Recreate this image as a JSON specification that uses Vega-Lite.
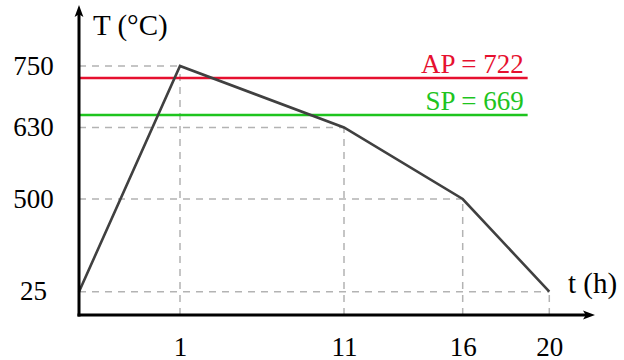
{
  "$schema": "https://vega.github.io/schema/vega-lite/v6.json",
  "width": 516,
  "height": 310,
  "autosize": {"type": "none"},
  "padding": {"left": 79, "top": 5, "right": 29, "bottom": 45},
  "config": {"view": {"stroke": null}, "font": "Liberation Serif"},
  "datasets": {
    "profile": [
      {"t": 0, "T": 25},
      {"t": 1, "T": 750},
      {"t": 11, "T": 630},
      {"t": 16, "T": 500},
      {"t": 20, "T": 25}
    ],
    "guides": [
      {"t": 0, "tEnd": 1, "T": 750, "TEnd": 750},
      {"t": 0, "tEnd": 11, "T": 630, "TEnd": 630},
      {"t": 0, "tEnd": 16, "T": 500, "TEnd": 500},
      {"t": 0, "tEnd": 20, "T": 25, "TEnd": 25},
      {"t": 1, "tEnd": 1, "T": 0, "TEnd": 750},
      {"t": 11, "tEnd": 11, "T": 0, "TEnd": 630},
      {"t": 16, "tEnd": 16, "T": 0, "TEnd": 500},
      {"t": 20, "tEnd": 20, "T": 0, "TEnd": 25}
    ],
    "refs": [
      {"name": "AP", "label": "AP = 722", "T": 722, "t": 0, "tEnd": 19},
      {"name": "SP", "label": "SP = 669", "T": 669, "t": 0, "tEnd": 19}
    ],
    "axes": [
      {"dir": "x", "t": 0, "T": 0, "tEnd": 21.56, "TEnd": 0},
      {"dir": "y", "t": 0, "T": 0, "tEnd": 0, "TEnd": 875}
    ],
    "tips": [
      {"dir": "x", "t": 22, "T": 0},
      {"dir": "y", "t": 0, "T": 900}
    ],
    "titles": [
      {"dir": "y", "label": "T (°C)", "t": 0, "T": 900},
      {"dir": "x", "label": "t (h)", "t": 22, "T": 0}
    ]
  },
  "encoding": {
    "x": {"field": "t", "type": "quantitative",
      "scale": {"type": "linear", "domain": [0, 1, 11, 16, 20, 22], "range": [0, 101, 265, 383.7, 470.3, 516], "nice": false, "zero": false},
      "axis": {"values": [1, 11, 16, 20], "domain": false, "ticks": false, "grid": false, "title": null, "labelFont": "Liberation Serif", "labelFontSize": 27, "labelColor": "black", "labelPadding": 40, "labelBaseline": "alphabetic", "labelFlush": false, "labelOverlap": false}},
    "y": {"field": "T", "type": "quantitative",
      "scale": {"type": "linear", "domain": [0, 25, 500, 630, 669, 722, 750, 900], "range": [310, 286.7, 194, 122.5, 110, 73, 61, 0], "nice": false, "zero": false},
      "axis": {"values": [25, 500, 630, 750], "domain": false, "ticks": false, "grid": false, "title": null, "labelFont": "Liberation Serif", "labelFontSize": 27, "labelColor": "black", "labelPadding": 46, "labelAlign": "center", "labelBaseline": "middle", "labelFlush": false, "labelOverlap": false}}
  },
  "layer": [
    {
      "data": {"name": "guides"},
      "mark": {"type": "rule", "color": "#b3b3b3", "strokeWidth": 1.5, "strokeDash": [7, 6]},
      "encoding": {
        "x2": {"field": "tEnd"},
        "y2": {"field": "TEnd"}
      }
    },
    {
      "data": {"name": "refs"},
      "mark": {"type": "rule", "strokeWidth": 2.6},
      "encoding": {
        "x2": {"field": "tEnd"},
        "color": {"field": "name", "type": "nominal", "scale": {"domain": ["AP", "SP"], "range": ["#e6102f", "#1ec41e"]}, "legend": null}
      }
    },
    {
      "data": {"name": "refs"},
      "mark": {"type": "text", "align": "right", "baseline": "alphabetic", "dx": -4, "dy": -5, "font": "Liberation Serif", "fontSize": 27},
      "encoding": {
        "x": {"field": "tEnd", "type": "quantitative"},
        "text": {"field": "label", "type": "nominal"},
        "color": {"field": "name", "type": "nominal", "legend": null}
      }
    },
    {
      "data": {"name": "profile"},
      "mark": {"type": "line", "color": "#404040", "strokeWidth": 2.6, "strokeJoin": "miter"},
      "encoding": {}
    },
    {
      "data": {"name": "axes"},
      "mark": {"type": "rule", "color": "black", "strokeWidth": 3, "strokeCap": "square"},
      "encoding": {
        "x2": {"field": "tEnd"},
        "y2": {"field": "TEnd"}
      }
    },
    {
      "data": {"name": "tips"},
      "transform": [{"filter": "datum.dir == 'y'"}],
      "mark": {"type": "point", "filled": true, "color": "black", "opacity": 1, "size": 256, "shape": "M0,0 L0.55,1.5 L0,1.15 L-0.55,1.5 Z"},
      "encoding": {}
    },
    {
      "data": {"name": "tips"},
      "transform": [{"filter": "datum.dir == 'x'"}],
      "mark": {"type": "point", "filled": true, "color": "black", "opacity": 1, "size": 256, "shape": "M0,0 L-1.5,0.55 L-1.15,0 L-1.5,-0.55 Z"},
      "encoding": {}
    },
    {
      "data": {"name": "titles"},
      "transform": [{"filter": "datum.dir == 'y'"}],
      "mark": {"type": "text", "align": "left", "baseline": "alphabetic", "dx": 14, "dy": 30, "font": "Liberation Serif", "fontSize": 29, "color": "black"},
      "encoding": {
        "text": {"field": "label", "type": "nominal"}
      }
    },
    {
      "data": {"name": "titles"},
      "transform": [{"filter": "datum.dir == 'x'"}],
      "mark": {"type": "text", "align": "left", "baseline": "alphabetic", "dx": -27, "dy": -22, "font": "Liberation Serif", "fontSize": 29, "color": "black"},
      "encoding": {
        "text": {"field": "label", "type": "nominal"}
      }
    }
  ]
}
